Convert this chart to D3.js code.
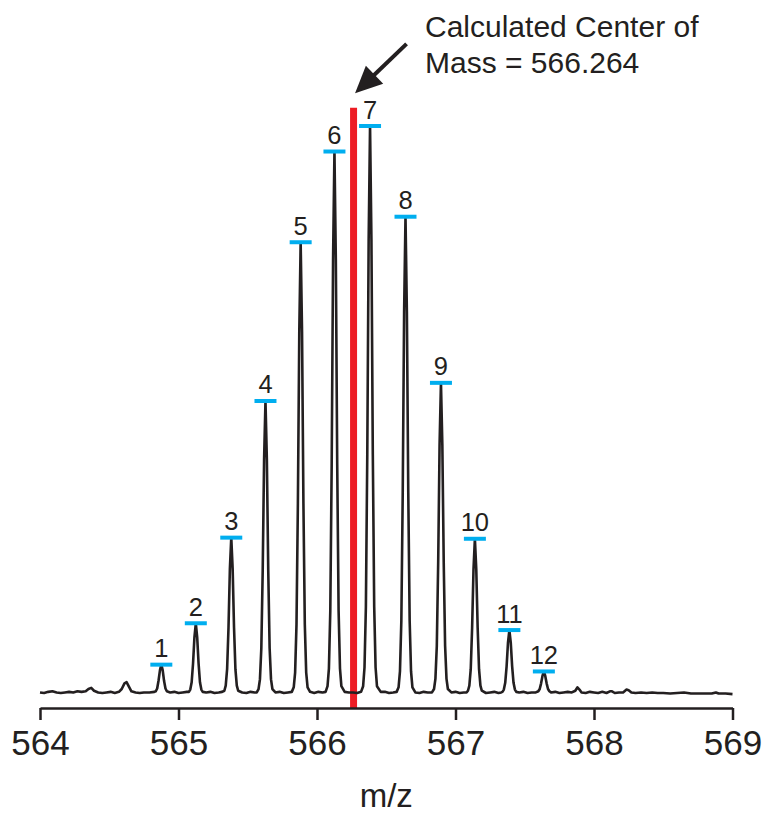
<!DOCTYPE html>
<html>
<head>
<meta charset="utf-8">
<script src="https://cdn.jsdelivr.net/npm/d3@7/dist/d3.min.js"></script>
<style>
  html, body { margin: 0; padding: 0; background: #ffffff; }
  svg { display: block; }
  text { font-family: "Liberation Sans", Arial, Helvetica, sans-serif; fill: #231f20; }
</style>
</head>
<body>
<svg id="chart" width="767" height="816"></svg>
<script>
// ---------------- DATA ----------------
const xTicks = [564, 565, 566, 567, 568, 569];
const xLabel = "m/z";
const centerMass = 566.264;
const annotationLines = ["Calculated Center of", "Mass = 566.264"];

// labelled isotope peaks (centroid m/z, relative intensity %)
const peakNumbers = [1, 2, 3, 4, 5, 6, 7, 8, 9, 10, 11, 12];
const peakMz = [564.876, 565.125, 565.381, 565.628, 565.882, 566.126, 566.383, 566.639, 566.895, 567.140, 567.389, 567.638];
const peakIntensity = [5.0, 12.3, 27.4, 51.5, 79.5, 95.5, 100, 84.0, 54.7, 27.2, 11.1, 3.8];

// profile spectrum: m/z values and relative intensity
const profileMz = [
  564.00, 564.03, 564.06, 564.09, 564.12, 564.15, 564.18, 564.21, 564.24, 564.27, 564.30, 564.33, 564.35, 564.37, 564.39, 564.42, 564.45, 564.48, 564.51, 564.54, 564.57, 564.59, 564.61, 564.625, 564.64, 564.66, 564.69, 564.72, 564.75, 564.79, 564.826,
  // peak 1
  564.836, 564.846, 564.856, 564.866, 564.876, 564.886, 564.896, 564.906, 564.916, 564.94, 564.97, 565.00, 565.03, 565.06,
  // peak 2
  565.075, 565.085, 565.095, 565.105, 565.115, 565.125, 565.135, 565.145, 565.155, 565.165, 565.175, 565.20, 565.23, 565.26, 565.29, 565.315,
  // peak 3
  565.331, 565.341, 565.351, 565.361, 565.371, 565.381, 565.391, 565.401, 565.411, 565.421, 565.431, 565.46, 565.49, 565.52, 565.55, 565.565,
  // peak 4
  565.578, 565.588, 565.598, 565.608, 565.618, 565.628, 565.638, 565.648, 565.658, 565.668, 565.678, 565.70, 565.73, 565.76, 565.79, 565.818,
  // peak 5
  565.832, 565.842, 565.852, 565.862, 565.872, 565.882, 565.892, 565.902, 565.912, 565.922, 565.932, 565.95, 565.98, 566.01, 566.04, 566.062,
  // peak 6
  566.076, 566.086, 566.096, 566.106, 566.116, 566.126, 566.136, 566.146, 566.156, 566.166, 566.176, 566.20, 566.23, 566.26, 566.29, 566.318,
  // peak 7
  566.333, 566.343, 566.353, 566.363, 566.373, 566.383, 566.393, 566.403, 566.413, 566.423, 566.433, 566.46, 566.49, 566.52, 566.55, 566.575,
  // peak 8
  566.589, 566.599, 566.609, 566.619, 566.629, 566.639, 566.649, 566.659, 566.669, 566.679, 566.689, 566.71, 566.74, 566.77, 566.80, 566.83,
  // peak 9
  566.845, 566.855, 566.865, 566.875, 566.885, 566.895, 566.905, 566.915, 566.925, 566.935, 566.945, 566.97, 567.00, 567.03, 567.06, 567.08,
  // peak 10
  567.090, 567.100, 567.110, 567.120, 567.130, 567.140, 567.150, 567.160, 567.170, 567.180, 567.190, 567.22, 567.25, 567.28, 567.31, 567.33,
  // peak 11
  567.339, 567.349, 567.359, 567.369, 567.379, 567.389, 567.399, 567.409, 567.419, 567.429, 567.439, 567.46, 567.49, 567.52, 567.55, 567.58,
  // peak 12
  567.598, 567.608, 567.618, 567.628, 567.638, 567.648, 567.658, 567.668, 567.678,
  567.69, 567.72, 567.75, 567.78, 567.81, 567.84, 567.865, 567.88, 567.895, 567.91, 567.94, 567.97, 568.00, 568.03, 568.06, 568.09, 568.115, 568.13, 568.15, 568.18, 568.21, 568.235, 568.25, 568.27, 568.30, 568.34, 568.38, 568.42, 568.46, 568.50, 568.55, 568.60, 568.65, 568.70, 568.75, 568.80, 568.85, 568.88, 568.90, 568.95, 569.00
];
const profileIntensity = [
  0.1, 0.0, 0.2, 0.3, 0.1, 0.0, 0.1, 0.2, 0.1, 0.3, 0.2, 0.3, 0.7, 0.9, 0.4, 0.1, 0.0, 0.1, 0.2, 0.0, 0.2, 0.7, 1.7, 1.9, 1.2, 0.3, 0.1, 0.0, 0.1, 0.1, 0.2,
  0.3, 0.8, 2.2, 4.0, 5.0, 4.0, 2.1, 0.8, 0.3, 0.1, 0.2, 0.0, 0.1, 0.2,
  0.2, 0.6, 1.9, 5.2, 9.8, 12.3, 9.8, 5.2, 1.9, 0.6, 0.2, 0.1, 0.2, 0.0, 0.1, 0.2,
  0.4, 1.3, 4.2, 11.5, 21.9, 27.4, 21.9, 11.5, 4.2, 1.3, 0.4, 0.1, 0.0, 0.2, 0.1, 0.1,
  0.7, 2.4, 7.9, 21.6, 41.2, 51.5, 41.2, 21.6, 7.9, 2.4, 0.7, 0.1, 0.2, 0.0, 0.1, 0.2,
  1.0, 3.6, 12.1, 33.4, 63.6, 79.5, 63.6, 33.4, 12.1, 3.6, 1.0, 0.2, 0.0, 0.2, 0.1, 0.2,
  1.2, 4.3, 14.5, 40.2, 76.4, 95.5, 76.4, 40.2, 14.5, 4.3, 1.2, 0.2, 0.1, 0.1, 0.0, 0.2,
  1.2, 4.5, 15.2, 42.0, 80.0, 100, 80.0, 42.0, 15.2, 4.5, 1.2, 0.2, 0.2, 0.0, 0.1, 0.2,
  1.0, 3.8, 12.8, 35.3, 67.2, 84.0, 67.2, 35.3, 12.8, 3.8, 1.0, 0.1, 0.0, 0.2, 0.1, 0.1,
  0.7, 2.5, 8.3, 23.0, 43.8, 54.7, 43.8, 23.0, 8.3, 2.5, 0.7, 0.1, 0.2, 0.0, 0.1, 0.1,
  0.4, 1.3, 4.2, 11.5, 21.8, 27.2, 21.8, 11.5, 4.2, 1.3, 0.4, 0.0, 0.1, 0.2, 0.0, 0.1,
  0.2, 0.6, 1.8, 4.7, 8.9, 11.1, 8.9, 4.7, 1.8, 0.6, 0.2, 0.1, 0.2, 0.0, 0.1, 0.1,
  0.3, 0.7, 1.7, 3.0, 3.8, 3.0, 1.7, 0.7, 0.3,
  0.1, 0.2, 0.0, 0.1, 0.2, 0.1, 0.4, 1.0, 0.6, 0.1, 0.0, 0.2, 0.1, 0.0, 0.2, 0.0, 0.3, 0.3, 0.0, 0.1, 0.1, 0.6, 0.5, 0.1, 0.0, 0.1, 0.0, 0.1, 0.0, 0.0, -0.1, 0.0, 0.1, -0.1, -0.1, -0.1, -0.1, 0.1, -0.1, -0.1, -0.2
];

// ---------------- LAYOUT ----------------
const svg = d3.select("#chart");
const ink = "#231f20";
const cyan = "#00aeef";
const red = "#ed1c24";

const plotLeft = 40, plotRight = 732.5;
const baselineY = 693, topY = 126;   // y of 0 % and 100 %
const axisY = 708;

const x = d3.scaleLinear().domain([564, 569]).range([plotLeft, plotRight]);
const y = d3.scaleLinear().domain([0, 100]).range([baselineY, topY]);

// red center-of-mass line
svg.append("line")
  .attr("x1", x(centerMass)).attr("x2", x(centerMass))
  .attr("y1", y(103.2)).attr("y2", axisY)
  .attr("stroke", red).attr("stroke-width", 7);

// spectrum trace
const profile = profileMz.map((m, i) => [m, profileIntensity[i]]);
svg.append("path")
  .datum(profile)
  .attr("fill", "none")
  .attr("stroke", ink)
  .attr("stroke-width", 2.6)
  .attr("stroke-linejoin", "round")
  .attr("d", d3.line().x(d => x(d[0])).y(d => y(d[1])));

// peak markers and numbers
const peaks = peakNumbers.map((n, i) => ({ n, mz: peakMz[i], v: peakIntensity[i] }));
const pg = svg.append("g");
pg.selectAll("line.mark").data(peaks).join("line")
  .attr("class", "mark")
  .attr("x1", d => x(d.mz) - 11).attr("x2", d => x(d.mz) + 11)
  .attr("y1", d => y(d.v)).attr("y2", d => y(d.v))
  .attr("stroke", cyan).attr("stroke-width", 4);
pg.selectAll("text").data(peaks).join("text")
  .attr("x", d => x(d.mz))
  .attr("y", d => y(d.v) - 7.5)
  .attr("text-anchor", "middle")
  .attr("font-size", 25.5)
  .text(d => d.n);

// x axis
const axis = d3.axisBottom(x).tickValues(xTicks).tickFormat(d3.format("d"))
  .tickSize(12).tickSizeOuter(0).tickPadding(10);
const ag = svg.append("g").attr("transform", `translate(0,${axisY})`).call(axis);
ag.select(".domain").attr("stroke", ink).attr("stroke-width", 2.5);
ag.selectAll(".tick line").attr("stroke", ink).attr("stroke-width", 2.5);
ag.selectAll(".tick text").attr("font-size", 35).attr("fill", ink)
  .attr("font-family", "'Liberation Sans', Arial, sans-serif");

svg.append("text")
  .attr("x", (plotLeft + plotRight) / 2)
  .attr("y", 806.5)
  .attr("text-anchor", "middle")
  .attr("font-size", 33)
  .text(xLabel);

// annotation
const ann = svg.append("g");
annotationLines.forEach((t, i) => {
  ann.append("text")
    .attr("x", 425).attr("y", 37 + i * 35.5)
    .attr("font-size", 30)
    .text(t);
});
// arrow pointing to top of the red line
const tipX = x(centerMass) + 1.5, tipY = y(103.2) - 14.5;
const tailX = tipX + 51.5, tailY = tipY - 49.5;
const ang = Math.atan2(tipY - tailY, tipX - tailX);
const headLen = 27, headHalf = 12.5;
const bx = tipX - headLen * Math.cos(ang), by = tipY - headLen * Math.sin(ang);
ann.append("line")
  .attr("x1", tailX).attr("y1", tailY)
  .attr("x2", bx + 2 * Math.cos(ang)).attr("y2", by + 2 * Math.sin(ang))
  .attr("stroke", ink).attr("stroke-width", 4);
ann.append("path")
  .attr("d", d3.line()([
    [tipX, tipY],
    [bx + headHalf * Math.sin(ang), by - headHalf * Math.cos(ang)],
    [bx - headHalf * Math.sin(ang), by + headHalf * Math.cos(ang)]
  ]) + "Z")
  .attr("fill", ink);
</script>
</body>
</html>
